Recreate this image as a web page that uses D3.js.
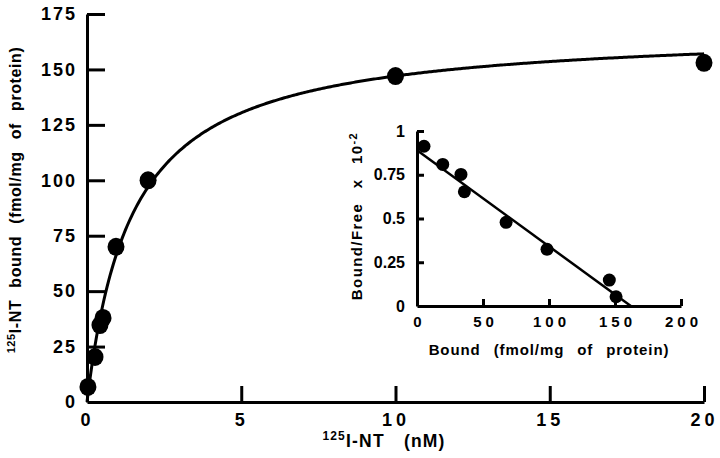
<!DOCTYPE html>
<html>
<head>
<meta charset="utf-8">
<script src="https://cdn.jsdelivr.net/npm/d3@7"></script>
<style>
  html, body { margin: 0; padding: 0; background: #fff; }
  svg { display: block; }
  text { font-family: "Liberation Sans", Arial, Helvetica, sans-serif; font-weight: bold; fill: #000; }
</style>
</head>
<body>
<svg id="chart" width="720" height="458"></svg>
<script>
// ---- Main saturation data (125I-NT nM vs bound fmol/mg protein) ----
const concNM   = [0.03, 0.26, 0.42, 0.52, 0.94, 1.98, 10, 20];
const boundMain = [6.8, 20.3, 34.7, 37.9, 70, 100, 147, 153];
// fitted hyperbola parameters
const fitBmax = 168.5;
const fitKd = 1.46;
const xTicksMain = [0, 5, 10, 15, 20];
const yTicksMain = [0, 25, 50, 75, 100, 125, 150, 175];

// ---- Inset Scatchard data ----
const boundInset = [5.3, 19.5, 33.3, 35.9, 67.5, 98.5, 145.7, 150.8];
const boundFree  = [0.913, 0.809, 0.752, 0.653, 0.478, 0.324, 0.148, 0.053];
// fitted line: intercept on B/F axis and on Bound axis
const lineBF0 = 0.89;
const lineB0 = 162;
const xTicksInset = [0, 50, 100, 150, 200];
const yTicksInset = [0, 0.25, 0.5, 0.75, 1];
const yTickLabelsInset = ["0", "0.25", "0.5", "0.75", "1"];

const svg = d3.select("#chart");
const FONT = '"Liberation Sans", Arial, sans-serif';

// ===== Main chart =====
const x = d3.scaleLinear().domain([0, 20]).range([87, 704]);
const y = d3.scaleLinear().domain([0, 175]).range([402, 14]);

const gx = svg.append("g").attr("transform", `translate(0,${y(0)})`)
  .call(d3.axisBottom(x).tickValues(xTicksMain).tickSizeInner(-16).tickSizeOuter(0).tickPadding(11));
const gy = svg.append("g").attr("transform", `translate(${x(0)},0)`)
  .call(d3.axisLeft(y).tickValues(yTicksMain).tickSizeInner(-18).tickSizeOuter(0).tickPadding(10));

[gx, gy].forEach(g => {
  g.select(".domain").attr("stroke", "#000").attr("stroke-width", 3);
  g.selectAll(".tick line").attr("stroke", "#000").attr("stroke-width", 3);
  g.selectAll(".tick text").attr("fill", "#000").style("font-size", "18px")
    .style("font-family", FONT).style("font-weight", "bold");
});
gx.selectAll(".tick").filter(d => d === 0).select("line").remove();
gy.selectAll(".tick").filter(d => d === 0).select("line").remove();
gx.selectAll(".tick text").style("letter-spacing", "4px").attr("dx", "0");
gy.selectAll(".tick text").style("letter-spacing", "2px");

// curve
const curveX = d3.range(0, 20.001, 0.05);
const line = d3.line().x(d => x(d)).y(d => y(fitBmax * d / (fitKd + d)));
svg.append("path").datum(curveX).attr("d", line)
  .attr("fill", "none").attr("stroke", "#000").attr("stroke-width", 3);

svg.append("g").selectAll("ellipse").data(concNM).join("ellipse")
  .attr("cx", (d) => x(d)).attr("cy", (d, i) => y(boundMain[i]))
  .attr("rx", 8.5).attr("ry", 9).attr("fill", "#000");

// axis titles
const yt = svg.append("text")
  .attr("transform", `translate(19,${200}) rotate(-90)`)
  .attr("text-anchor", "middle")
  .style("font-size", "16px").style("word-spacing", "7px").style("letter-spacing", "0.6px");
yt.append("tspan").text("125").style("font-size", "11px").attr("dy", "-0.35em");
yt.append("tspan").text("I-NT  bound  (fmol/mg  of  protein)").attr("dy", "0.35em");

const xt = svg.append("text")
  .attr("x", 384).attr("y", 445).attr("text-anchor", "middle")
  .style("font-size", "17.5px").style("word-spacing", "13px").style("letter-spacing", "1.2px");
xt.append("tspan").text("125").style("font-size", "12px").attr("dy", "-0.4em");
xt.append("tspan").text("I-NT  (nM)").attr("dy", "0.4em");

// ===== Inset =====
const ix = d3.scaleLinear().domain([0, 200]).range([417, 681]);
const iy = d3.scaleLinear().domain([0, 1]).range([306, 131]);

const igx = svg.append("g").attr("transform", `translate(0,${iy(0)})`)
  .call(d3.axisBottom(ix).tickValues(xTicksInset).tickSizeInner(-7).tickSizeOuter(0).tickPadding(10));
const igy = svg.append("g").attr("transform", `translate(${ix(0)},0)`)
  .call(d3.axisLeft(iy).tickValues(yTicksInset).tickFormat((d, i) => yTickLabelsInset[i])
    .tickSizeInner(-7).tickSizeOuter(0).tickPadding(12));

[igx, igy].forEach(g => {
  g.select(".domain").attr("stroke", "#000").attr("stroke-width", 3);
  g.selectAll(".tick line").attr("stroke", "#000").attr("stroke-width", 3);
  g.selectAll(".tick text").attr("fill", "#000").style("font-size", "15px")
    .style("font-family", FONT).style("font-weight", "bold");
});
igx.selectAll(".tick").filter(d => d === 0).select("line").remove();
igy.selectAll(".tick").filter(d => d === 0).select("line").remove();
igx.selectAll(".tick text").style("letter-spacing", "4px").attr("dx", "2");
igy.selectAll(".tick text").style("font-size", "16px");

svg.append("line")
  .attr("x1", ix(0)).attr("y1", iy(lineBF0))
  .attr("x2", ix(lineB0)).attr("y2", iy(0))
  .attr("stroke", "#000").attr("stroke-width", 2.5);

svg.append("g").selectAll("circle").data(boundInset).join("circle")
  .attr("cx", d => ix(d)).attr("cy", (d, i) => iy(boundFree[i]))
  .attr("r", 6.5).attr("fill", "#000");

svg.append("text").attr("x", 549).attr("y", 355).attr("text-anchor", "middle")
  .style("font-size", "15px").style("word-spacing", "8px").style("letter-spacing", "0.9px")
  .text("Bound  (fmol/mg  of  protein)");

const iyt = svg.append("text")
  .attr("transform", `translate(362,${216}) rotate(-90)`)
  .attr("text-anchor", "middle")
  .style("font-size", "15px").style("word-spacing", "9px").style("letter-spacing", "1.4px");
iyt.append("tspan").text("Bound/Free  x  10");
iyt.append("tspan").text("-2").style("font-size", "11px").attr("dy", "-0.45em");
</script>
</body>
</html>
